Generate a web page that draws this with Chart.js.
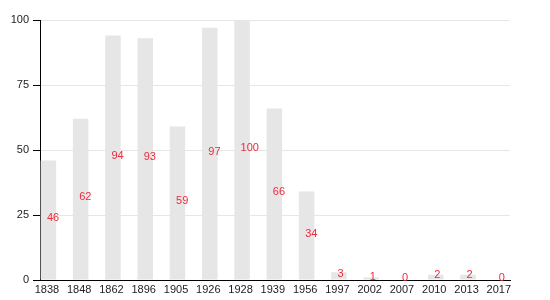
<!DOCTYPE html>
<html>
<head>
<meta charset="utf-8">
<script src="https://cdn.jsdelivr.net/npm/chart.js@4/dist/chart.umd.min.js"></script>
<style>
  html, body { margin: 0; padding: 0; background: #fff; }
</style>
</head>
<body>
<canvas id="chart" width="550" height="300"></canvas>
<script>
const years = ['1838', '1848', '1862', '1896', '1905', '1926', '1928', '1939', '1956', '1997', '2002', '2007', '2010', '2013', '2017'];
const values = [46, 62, 94, 93, 59, 97, 100, 66, 34, 3, 1, 0, 2, 2, 0];
const yTicks = [0, 25, 50, 75, 100];

// value labels drawn in the middle of each bar, starting at its centre
const barLabels = {
  id: 'barLabels',
  afterDatasetsDraw(chart) {
    const ctx = chart.ctx;
    const meta = chart.getDatasetMeta(0);
    const yScale = chart.scales.y;
    ctx.save();
    ctx.font = '11px "Liberation Sans", Arial, sans-serif';
    ctx.fillStyle = '#ee2a3c';
    ctx.textAlign = 'left';
    ctx.textBaseline = 'alphabetic';
    meta.data.forEach((bar, i) => {
      const v = values[i];
      const y = yScale.getPixelForValue(v / 2);
      ctx.fillText(String(v), bar.x - 1.5, y + 1);
    });
    ctx.restore();
  }
};

new Chart(document.getElementById('chart'), {
  type: 'bar',
  data: {
    datasets: [{
      data: values.map((v, i) => ({ x: i, y: v })),
      backgroundColor: '#e6e6e6',
      borderWidth: 0,
      barPercentage: 0.48,
      categoryPercentage: 1
    }]
  },
  options: {
    responsive: false,
    animation: false,
    devicePixelRatio: 1,
    layout: { padding: { top: 20, right: 40, left: 0, bottom: 0 } },
    plugins: { legend: { display: false }, tooltip: { enabled: false } },
    scales: {
      x: {
        type: 'linear',
        offset: false,
        min: -0.26,
        max: 14.3,
        afterBuildTicks: (s) => { s.ticks = years.map((y, i) => ({ value: i })); },
        afterFit: (s) => { s.height = 20; },
        grid: { display: false, drawTicks: false, offset: false },
        border: { display: true, color: '#000', width: 1 },
        ticks: {
          autoSkip: false,
          maxRotation: 0,
          padding: 3,
          labelOffset: -1.5,
          color: '#222',
          font: { family: '"Liberation Sans", Arial, sans-serif', size: 11 },
          callback: (v) => years[v]
        }
      },
      y: {
        min: 0,
        max: 100,
        afterBuildTicks: (s) => { s.ticks = yTicks.map(v => ({ value: v })); },
        afterFit: (s) => { s.width = 40; },
        grid: { color: '#e6e6e6', tickColor: '#000', tickLength: 7 },
        border: { display: true, color: '#000', width: 1 },
        ticks: {
          padding: 4,
          color: '#222',
          font: { family: '"Liberation Sans", Arial, sans-serif', size: 11 }
        }
      }
    }
  },
  plugins: [barLabels]
});
</script>
</body>
</html>
